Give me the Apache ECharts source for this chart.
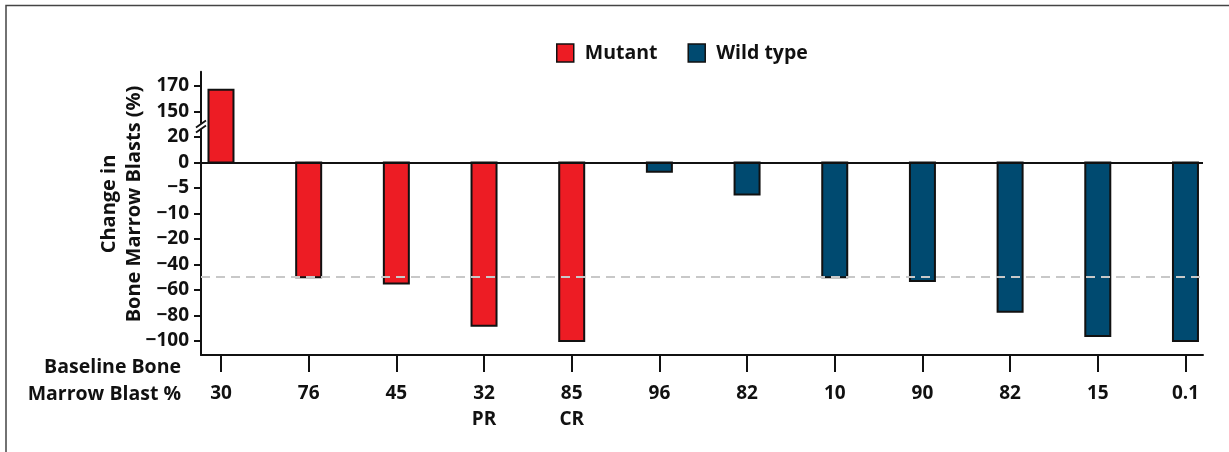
<!DOCTYPE html>
<html><head><meta charset="utf-8">
<script src="https://cdn.jsdelivr.net/npm/echarts@6/dist/echarts.min.js"></script>
<style>html,body{margin:0;padding:0;background:#fff}#c{width:1229px;height:452px}</style>
</head><body><div id="c"></div>
<script>
// ---- data ----
const categories = ['30','76','45','32','85','96','82','10','90','82','15','0.1'];
const responses  = ['','','','PR','CR','','','','','','',''];
const mutantValues = [167, -50, -55, -88, -100, null, null, null, null, null, null, null];
const wildValues   = [null, null, null, null, null, -1.8, -6.3, -50, -53, -77, -96, -100];
const yTickValues = [-100, -80, -60, -40, -20, -10, -5, 0, 20, 150, 170];
const yTickLabels = ['\u2212100','\u221280','\u221260','\u221240','\u221220','\u221210','\u22125','0','20','150','170'];
const thresholdValue = -50;
const seriesNames = ['Mutant', 'Wild type'];

// piecewise axis scale: each tick is one equal step (axis is broken/stretched)
function toPos(v) {
  const t = yTickValues;
  if (v <= t[0]) return (v - t[0]) / (t[1] - t[0]);
  for (let k = 0; k < t.length - 1; k++) {
    if (v <= t[k + 1]) return k + (v - t[k]) / (t[k + 1] - t[k]);
  }
  const n = t.length - 1;
  return n + (v - t[n]) / (t[n] - t[n - 1]);
}
const tickPositions = yTickValues.map((v, i) => i);
const xPositions = categories.map((c, i) => i);

function toData(arr) {
  const out = [];
  arr.forEach((v, i) => { if (v !== null) out.push([i, v, toPos(v)]); });
  return out;
}

const FONT = 'Open Sans';
const chart = echarts.init(document.getElementById('c'), null, {renderer: 'canvas'});

function renderBar(params, api) {
  const x = api.value(0);
  const p0 = api.coord([x, toPos(0)]);
  const p1 = api.coord([x, api.value(2)]);
  const w = 25;
  return {
    type: 'rect',
    shape: {x: p0[0] - w / 2, y: Math.min(p0[1], p1[1]), width: w, height: Math.abs(p1[1] - p0[1])},
    style: {fill: api.visual('color'), stroke: '#111', lineWidth: 2}
  };
}

const option = {
  animation: false,
  backgroundColor: '#fff',
  grid: {left: 201, right: 26, top: 71.7, bottom: 97, containLabel: false},
  legend: {
    left: 556, top: 43, padding: 0, itemWidth: 17, itemHeight: 18, itemGap: 30,
    icon: 'rect',
    itemStyle: {borderColor: '#111', borderWidth: 1.5},
    textStyle: {fontFamily: FONT, fontWeight: 'bold', fontSize: 19.5, color: '#111', padding: [0, 0, 0, 6]},
    data: seriesNames
  },
  xAxis: {
    type: 'value', min: -0.228, max: 11.2,
    axisLine: {show: true, onZero: false, lineStyle: {color: '#111', width: 2}},
    axisTick: {show: true, customValues: xPositions, length: 17, lineStyle: {color: '#111', width: 2}},
    axisLabel: {
      customValues: xPositions, margin: 26,
      formatter: v => categories[v] + (responses[v] ? '\n' + responses[v] : ''),
      fontFamily: FONT, fontWeight: 'bold', fontSize: 19, color: '#111', lineHeight: 26
    },
    splitLine: {show: false}
  },
  yAxis: {
    type: 'value', min: -0.55, max: 10.56,
    axisLine: {show: true, onZero: false, lineStyle: {color: '#111', width: 2}},
    axisTick: {show: true, customValues: tickPositions, length: 7, lineStyle: {color: '#111', width: 2}},
    axisLabel: {
      customValues: tickPositions, margin: 12,
      formatter: v => yTickLabels[Math.round(v)],
      fontFamily: FONT, fontWeight: 'bold', fontSize: 19, color: '#111'
    },
    splitLine: {show: false}
  },
  series: [
    {
      type: 'line', data: [], z: 1, silent: true,
      markLine: {
        silent: true, symbol: 'none', label: {show: false},
        lineStyle: {color: '#c8c8c8', type: [9, 6], width: 2},
        data: [{yAxis: toPos(thresholdValue)}]
      }
    },
    {
      name: seriesNames[0], type: 'custom', z: 2,
      itemStyle: {color: '#ED1C24', borderColor: '#111', borderWidth: 1.5},
      renderItem: renderBar, encode: {x: 0, y: 2},
      data: toData(mutantValues)
    },
    {
      name: seriesNames[1], type: 'custom', z: 2,
      itemStyle: {color: '#004A70', borderColor: '#111', borderWidth: 1.5},
      renderItem: renderBar, encode: {x: 0, y: 2},
      data: toData(wildValues)
    },
    {
      type: 'line', data: [], z: 3, silent: true,
      markLine: {
        silent: true, symbol: 'none', label: {show: false},
        lineStyle: {color: '#111', type: 'solid', width: 2},
        data: [{yAxis: toPos(0)}]
      }
    }
  ]
};
chart.setOption(option);

// decorations: frame, axis break, titles
const brk = chart.convertToPixel({gridIndex: 0}, [-0.228, 8.45]);
const bx = brk[0], by = brk[1];
chart.setOption({
  graphic: [
    {type: 'polyline', silent: true, z: 10,
     shape: {points: [[6, 452], [6, 5.5], [1229, 5.5]]},
     style: {stroke: '#444', lineWidth: 1.5, fill: null}},
    {type: 'polygon', silent: true, z: 10,
     shape: {points: [[bx - 6, by + 2], [bx + 6, by - 6], [bx + 6, by - 1], [bx - 6, by + 7]]},
     style: {fill: '#fff'}},
    {type: 'line', silent: true, z: 11,
     shape: {x1: bx - 5, y1: by + 2, x2: bx + 5, y2: by - 5},
     style: {stroke: '#111', lineWidth: 1.8}},
    {type: 'line', silent: true, z: 11,
     shape: {x1: bx - 5, y1: by + 7, x2: bx + 5, y2: by},
     style: {stroke: '#111', lineWidth: 1.8}},
    {type: 'text', silent: true, z: 10, x: 122, y: 204, rotation: Math.PI / 2,
     style: {text: 'Change in\nBone Marrow Blasts (%)', fontFamily: FONT, fontWeight: 'bold',
             fontSize: 20, fill: '#111', align: 'center', verticalAlign: 'middle', lineHeight: 25}},
    {type: 'text', silent: true, z: 10, x: 181, y: 381,
     style: {text: 'Baseline Bone\nMarrow Blast %', fontFamily: FONT, fontWeight: 'bold',
             fontSize: 19.5, fill: '#111', align: 'right', verticalAlign: 'middle', lineHeight: 27}}
  ]
});
</script>
</body></html>
